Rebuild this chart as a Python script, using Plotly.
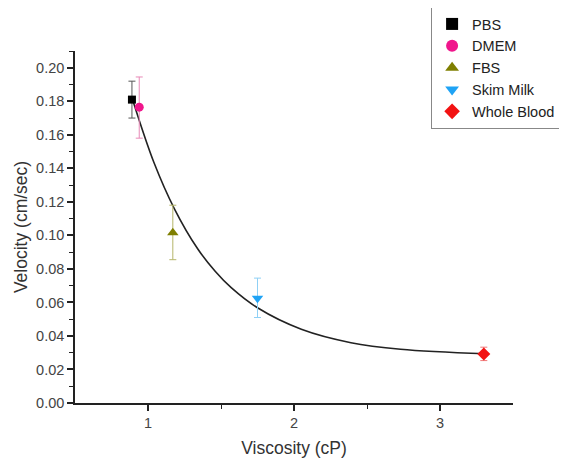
import plotly.graph_objects as go

names = ["PBS", "DMEM", "FBS", "Skim Milk", "Whole Blood"]
viscosity = [0.89, 0.94, 1.17, 1.75, 3.30]
velocity = [0.181, 0.1765, 0.1015, 0.0625, 0.0293]
err_plus = [0.011, 0.018, 0.0165, 0.012, 0.004]
err_minus = [0.011, 0.0185, 0.016, 0.0115, 0.004]
colors = ["#000000", "#f0168c", "#7f7f00", "#1fa3f5", "#f21212"]
err_colors = ["#555555", "#e88ab8", "#b5b56a", "#8fd0f5", "#f07a7a"]
symbols = ["square", "circle", "triangle-up", "triangle-down", "diamond"]
marker_sizes = [8, 9, 10, 10, 10]

# fitted curve
fit_x = [0.90, 1.04, 1.18, 1.34, 1.46, 1.57, 1.75, 2.05, 2.39, 2.73, 3.31]
fit_y = [0.1794, 0.1436, 0.1160, 0.0920, 0.0786, 0.0688, 0.0568, 0.0440, 0.0360, 0.0321, 0.0294]

fig = go.Figure()
fig.add_trace(go.Scatter(x=fit_x, y=fit_y, mode="lines",
                         line=dict(color="#222222", width=1.6, shape="spline", smoothing=1.0),
                         showlegend=False, hoverinfo="skip"))
for i in range(len(names)):
    fig.add_trace(go.Scatter(
        x=[viscosity[i]], y=[velocity[i]], mode="markers", name=names[i],
        marker=dict(symbol=symbols[i], color=colors[i], size=marker_sizes[i]),
        error_y=dict(type="data", symmetric=False, array=[err_plus[i]], arrayminus=[err_minus[i]],
                     color=err_colors[i], thickness=1, width=3.5),
    ))

base_font = dict(family="Liberation Sans, Arial, sans-serif", size=14.5, color="#333333")
fig.update_layout(
    width=559, height=451,
    margin=dict(l=67, r=54, t=43, b=56, autoexpand=False),
    plot_bgcolor="white", paper_bgcolor="white",
    font=base_font,
    xaxis=dict(range=[0.5, 3.5], tickvals=[1, 2, 3], ticks="outside", ticklen=6, tickwidth=1.5,
               showline=True, linecolor="#222222", linewidth=1.5, showgrid=False, zeroline=False,
               minor=dict(tickvals=[1.5, 2.5], ticks="outside", ticklen=4, tickwidth=1.2, tickcolor="#222222"),
               tickcolor="#222222", tickfont=dict(size=14.5, color="#444444"),
               title=dict(text="Viscosity (cP)", font=dict(size=17.5, color="#333333"), standoff=12)),
    yaxis=dict(range=[0, 0.21], tickvals=[0, 0.02, 0.04, 0.06, 0.08, 0.10, 0.12, 0.14, 0.16, 0.18, 0.20],
               tickformat=".2f", ticks="outside", ticklen=6, tickwidth=1.5, tickcolor="#222222",
               showline=True, linecolor="#222222", linewidth=1.5, showgrid=False, zeroline=False,
               tickfont=dict(size=14.5, color="#444444"),
               minor=dict(dtick=0.01, ticks="outside", ticklen=4, tickwidth=1.2, tickcolor="#222222", showgrid=False),
               title=dict(text="Velocity (cm/sec)", font=dict(size=17.5, color="#333333"), standoff=4)),
    legend=dict(x=0.813, y=1.125, xanchor="left", yanchor="top", bordercolor="#888888", borderwidth=1,
                bgcolor="white", font=dict(size=14.5, color="#222222"), tracegroupgap=0, itemsizing="constant"),
)
fig.write_html("out.html")
